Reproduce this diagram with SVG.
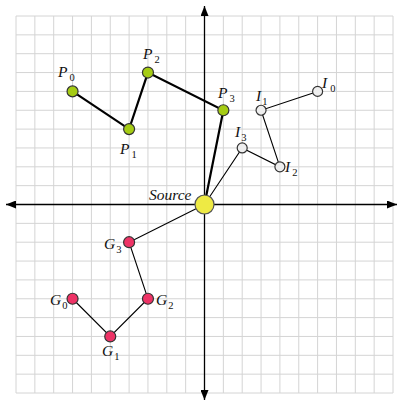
<svg xmlns="http://www.w3.org/2000/svg" width="399" height="404" viewBox="0 0 399 404">
<style>
.grid{stroke:#d4d4d4;stroke-width:1;fill:none}
.axis{stroke:#000;stroke-width:1.3;fill:none}
.thick{stroke:#000;stroke-width:2.2;fill:none}
.thin{stroke:#000;stroke-width:1.1;fill:none}
.pt{stroke:#333;stroke-width:1.2}
.p{fill:#a5cc14}
.i{fill:#eeeeee}
.g{fill:#ee3366}
.lbl{font-family:"Liberation Serif",serif;font-style:italic;font-size:15.5px;fill:#111}
.sub{font-family:"Liberation Serif",serif;font-size:10.5px;font-style:normal;fill:#111}
</style>
<defs>
<marker id="ah" viewBox="0 0 10 8" refX="10" refY="4" markerWidth="10" markerHeight="8" markerUnits="userSpaceOnUse" orient="auto">
<path d="M0,0 L10,4 L0,8 Z" fill="#000"/>
</marker>
</defs>
<rect width="399" height="404" fill="#fff"/>
<g id="grid" class="grid">
<path d="M16,16V393M34.85,16V393M53.7,16V393M72.55,16V393M91.4,16V393M110.25,16V393M129.1,16V393M147.95,16V393M166.8,16V393M185.65,16V393M204.5,16V393M223.35,16V393M242.2,16V393M261.05,16V393M279.9,16V393M298.75,16V393M317.6,16V393M336.45,16V393M355.3,16V393M374.15,16V393M393,16V393"/>
<path d="M16,16H393M16,34.85H393M16,53.7H393M16,72.55H393M16,91.4H393M16,110.25H393M16,129.1H393M16,147.95H393M16,166.8H393M16,185.65H393M16,204.5H393M16,223.35H393M16,242.2H393M16,261.05H393M16,279.9H393M16,298.75H393M16,317.6H393M16,336.45H393M16,355.3H393M16,374.15H393M16,393H393"/>
</g>
<g id="axes" class="axis">
<line x1="204.5" y1="204.5" x2="397" y2="204.5" marker-end="url(#ah)"/>
<line x1="204.5" y1="204.5" x2="6" y2="204.5" marker-end="url(#ah)"/>
<line x1="204.5" y1="204.5" x2="204.5" y2="6" marker-end="url(#ah)"/>
<line x1="204.5" y1="204.5" x2="204.5" y2="400" marker-end="url(#ah)"/>
</g>
<g id="connectors">
<polyline class="thick" points="72.55,91.4 129.1,129.1 147.95,72.55 223.35,110.25 204.5,204.5"/>
<polyline class="thin" points="317.6,91.4 261.05,110.25 279.9,166.8 242.2,147.95 204.5,204.5"/>
<polyline class="thin" points="204.5,204.5 129.1,242.2 147.95,298.75 110.25,336.45 72.55,298.75"/>
</g>
<g id="P0"><circle class="pt p" cx="72.55" cy="91.4" r="5.5"/><text class="lbl" x="58" y="77">P<tspan class="sub" dx="2" dy="4">0</tspan></text></g>
<g id="P1"><circle class="pt p" cx="129.1" cy="129.1" r="5.5"/><text class="lbl" x="120" y="154">P<tspan class="sub" dx="2" dy="4">1</tspan></text></g>
<g id="P2"><circle class="pt p" cx="147.95" cy="72.55" r="5.5"/><text class="lbl" x="143" y="59">P<tspan class="sub" dx="2" dy="4">2</tspan></text></g>
<g id="P3"><circle class="pt p" cx="223.35" cy="110.25" r="5.5"/><text class="lbl" x="218" y="98">P<tspan class="sub" dx="2" dy="4">3</tspan></text></g>
<g id="I0"><circle class="pt i" cx="317.6" cy="91.4" r="5"/><text class="lbl" x="322" y="88">I<tspan class="sub" dx="3" dy="4">0</tspan></text></g>
<g id="I1"><circle class="pt i" cx="261.05" cy="110.25" r="5"/><text class="lbl" x="256" y="101">I<tspan class="sub" dx="1" dy="4">1</tspan></text></g>
<g id="I2"><circle class="pt i" cx="279.9" cy="166.8" r="5"/><text class="lbl" x="285" y="172">I<tspan class="sub" dx="2" dy="4">2</tspan></text></g>
<g id="I3"><circle class="pt i" cx="242.2" cy="147.95" r="5"/><text class="lbl" x="235" y="137">I<tspan class="sub" dx="1" dy="4">3</tspan></text></g>
<g id="G0"><circle class="pt g" cx="72.55" cy="298.75" r="5.5"/><text class="lbl" x="50" y="305">G<tspan class="sub" dx="1" dy="4">0</tspan></text></g>
<g id="G1"><circle class="pt g" cx="110.25" cy="336.45" r="5.5"/><text class="lbl" x="102" y="356">G<tspan class="sub" dx="1" dy="4">1</tspan></text></g>
<g id="G2"><circle class="pt g" cx="147.95" cy="298.75" r="5.5"/><text class="lbl" x="156" y="305">G<tspan class="sub" dx="1" dy="4">2</tspan></text></g>
<g id="G3"><circle class="pt g" cx="129.1" cy="242.2" r="5.5"/><text class="lbl" x="104" y="249">G<tspan class="sub" dx="1" dy="4">3</tspan></text></g>
<g id="Source"><circle cx="204.5" cy="204.5" r="9.5" fill="#eeea44" stroke="#555" stroke-width="1.2"/><text class="lbl" x="149" y="200">Source</text></g>
</svg>
